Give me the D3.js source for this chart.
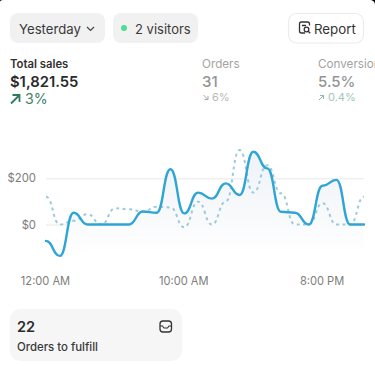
<!DOCTYPE html>
<html>
<head>
<meta charset="utf-8">
<script src="https://cdnjs.cloudflare.com/ajax/libs/d3/7.8.5/d3.min.js"></script>
<style>
  html, body { margin: 0; padding: 0; background: #fff; }
  svg { display: block; }
  text { font-family: Inter, "Noto Sans", sans-serif; }
</style>
</head>
<body>
<div id="chart"></div>
<script>
// hourly sales
var hours = d3.range(0, 24);
var salesToday = [-71, -136, 51, 0, 0, 0, 0, 56, 51, 239, 48, 138, 112, 178, 128, 315, 243, 55, 51, 0, 168, 193, 0, 0];
var salesPrevious = [120, 0, 16, 45, 0, 70, 66, 55, 77, 74, -12, 99, 0, 99, 322, 138, 257, 135, 0, 0, 92, 0, 0, 120];
var yTicks = [0, 200];
var xTicks = [0, 10, 20];
var xTickLabels = ["12:00 AM", "10:00 AM", "8:00 PM"];

var svg = d3.select("#chart").append("svg")
  .attr("width", 375)
  .attr("height", 366);

var x = d3.scaleLinear().domain([0, 23]).range([46, 364]);
var y = d3.scaleLinear().domain([0, 200]).range([224.5, 178.3]);

var defs = svg.append("defs");
var grad = defs.append("linearGradient")
  .attr("id", "areaFill")
  .attr("x1", 0).attr("x2", 0).attr("y1", 0).attr("y2", 1);
grad.append("stop").attr("offset", "0%").attr("stop-color", "#eef3f8");
grad.append("stop").attr("offset", "60%").attr("stop-color", "#f8f9fb");
grad.append("stop").attr("offset", "100%").attr("stop-color", "#ffffff");

// gridlines + y axis
var yAxis = svg.append("g")
  .attr("transform", "translate(46,0)")
  .call(d3.axisLeft(y).tickValues(yTicks).tickSize(0).tickPadding(10).tickFormat(function (d) { return "$" + d; }));
yAxis.select(".domain").remove();
yAxis.selectAll("text")
  .attr("font-size", "11.3px")
  .attr("font-family", "Inter, sans-serif")
  .attr("fill", "#7c7c7c");
yAxis.selectAll(".tick").append("line")
  .attr("x1", 0)
  .attr("x2", 318)
  .attr("stroke", "#e8e8e8")
  .attr("stroke-width", 1);

// x axis
var xAxis = svg.append("g")
  .attr("transform", "translate(0,272)")
  .call(d3.axisBottom(x).tickValues(xTicks).tickSize(0).tickPadding(5).tickFormat(function (d, i) { return xTickLabels[i]; }));
xAxis.select(".domain").remove();
xAxis.selectAll("text")
  .attr("dx", -1)
  .attr("font-size", "11.1px")
  .attr("font-family", "Inter, sans-serif")
  .attr("fill", "#7c7c7c");

var curve = d3.curveBumpX;

var area = d3.area()
  .x(function (d, i) { return x(hours[i]); })
  .y0(250)
  .y1(function (d) { return y(d); })
  .curve(curve);

var line = d3.line()
  .x(function (d, i) { return x(hours[i]); })
  .y(function (d) { return y(d); })
  .curve(curve);

svg.append("path")
  .datum(salesToday)
  .attr("d", area)
  .attr("fill", "url(#areaFill)");

svg.append("path")
  .datum(salesPrevious)
  .attr("d", line)
  .attr("fill", "none")
  .attr("stroke", "#9ccada")
  .attr("stroke-width", 2)
  .attr("stroke-dasharray", "3 3.5");

svg.append("path")
  .datum(salesToday)
  .attr("d", line)
  .attr("fill", "none")
  .attr("stroke", "#2ea5d4")
  .attr("stroke-width", 2.4)
  .attr("stroke-linecap", "round");

function label(px, py, str, size, weight, color) {
  return svg.append("text")
    .attr("x", px)
    .attr("y", py)
    .attr("font-size", size + "px")
    .attr("font-weight", weight)
    .attr("fill", color)
    .text(str);
}

// screenshot's rounded top corners
svg.append("path").attr("d", "M0 0h3q-3 0-3 2z").attr("fill", "#000");
svg.append("path").attr("d", "M375 0h-4q4 1 4 5z").attr("fill", "#000");

// top row
svg.append("rect").attr("x", 10).attr("y", 13).attr("width", 95).attr("height", 30).attr("rx", 8).attr("fill", "#f1f1f1");
label(19, 33.5, "Yesterday", 13.2, 400, "#3a3a3a");
svg.append("path").attr("d", "M87 27l3.5 3.5l3.5-3.5").attr("fill", "none").attr("stroke", "#444").attr("stroke-width", 1.2);

svg.append("rect").attr("x", 113).attr("y", 13).attr("width", 85).attr("height", 30).attr("rx", 8).attr("fill", "#f1f1f1");
svg.append("circle").attr("cx", 124).attr("cy", 28).attr("r", 3).attr("fill", "#4fdc94");
label(135, 33.5, "2 visitors", 13, 400, "#3a3a3a");

svg.append("rect").attr("x", 288.5).attr("y", 13.5).attr("width", 75).attr("height", 29.5).attr("rx", 8).attr("fill", "#fff").attr("stroke", "#ececec").attr("stroke-width", 1.2);
svg.append("path")
  .attr("d", "M305 33h-3.5a2 2 0 0 1-2-2v-7a2 2 0 0 1 2-2h6a2 2 0 0 1 2 2v1.5M302 25.5h4")
  .attr("fill", "none").attr("stroke", "#333").attr("stroke-width", 1.3);
svg.append("circle").attr("cx", 306.5).attr("cy", 29.5).attr("r", 2.3).attr("fill", "none").attr("stroke", "#333").attr("stroke-width", 1.3);
svg.append("path").attr("d", "M308.2 31.2l2 2").attr("fill", "none").attr("stroke", "#333").attr("stroke-width", 1.3);
label(314, 33.5, "Report", 13.3, 400, "#333");

// metrics
label(10, 67.5, "Total sales", 11.3, 600, "#303030");
label(10, 86.5, "$1,821.55", 14.8, 600, "#2a2a2a");
svg.append("path").attr("d", "M11 103.5l8-8M12.5 95h7v7").attr("fill", "none").attr("stroke", "#2f7a5c").attr("stroke-width", 1.8);
label(25, 104, "3%", 14.2, 400, "#3f8268");

label(202, 67.5, "Orders", 11.7, 400, "#a3a3a3");
label(202, 86.5, "31", 15, 500, "#949494");
svg.append("path").attr("d", "M208 99.5l-4.500-4.500M208 96v3.500h-3.500").attr("fill", "none").attr("stroke", "#a8a8a8").attr("stroke-width", 1);
label(212, 100.5, "6%", 11, 400, "#b9b9b9");

label(318, 67.5, "Conversion", 11.7, 400, "#a3a3a3");
label(318, 86.5, "5.5%", 15, 500, "#949494");
svg.append("path").attr("d", "M319 100l4.500-4.500M320 95.500h3.500v3.500").attr("fill", "none").attr("stroke", "#8fb8a6").attr("stroke-width", 1);
label(328, 100.5, "0.4%", 11, 400, "#a3c6b6");

// bottom card
svg.append("rect").attr("x", 10).attr("y", 309).attr("width", 172).attr("height", 52).attr("rx", 10).attr("fill", "#f6f6f6");
label(17, 332, "22", 14.500, 600, "#2a2a2a");
label(17, 350.5, "Orders to fulfill", 11.4, 500, "#3a3a3a");
svg.append("rect").attr("x", 160).attr("y", 321).attr("width", 11.500).attr("height", 11).attr("rx", 3).attr("fill", "none").attr("stroke", "#333").attr("stroke-width", 1.3);
svg.append("path").attr("d", "M160 326h2.500l1.500 2h3.500l1.500-2h2.500").attr("fill", "none").attr("stroke", "#333").attr("stroke-width", 1.1);
</script>
</body>
</html>
